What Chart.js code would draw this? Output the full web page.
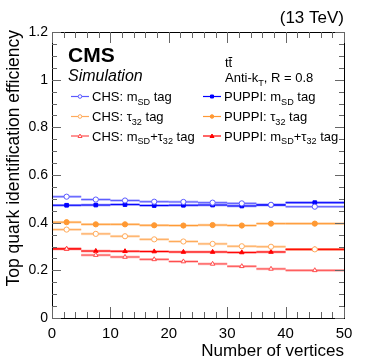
<!DOCTYPE html>
<html>
<head>
<meta charset="utf-8">
<script src="https://cdn.jsdelivr.net/npm/chart.js@4.4.0/dist/chart.umd.min.js"></script>
<style>
  html, body { margin: 0; padding: 0; background: #fff; }
  #wrap { width: 374px; height: 363px; }
</style>
</head>
<body>
<div id="wrap"><canvas id="effChart"></canvas></div>
<script>
// bins in number of vertices
const binLow = [0, 5, 10, 15, 20, 25, 30, 35, 40];
const binHigh = [5, 10, 15, 20, 25, 30, 35, 40, 50];
const binCenter = [2.5, 7.5, 12.5, 17.5, 22.5, 27.5, 32.5, 37.5, 45];

// efficiencies
const chsMsd = [0.509, 0.497, 0.493, 0.488, 0.487, 0.484, 0.481, 0.475, 0.467];
const puppiMsd = [0.473, 0.474, 0.476, 0.472, 0.473, 0.474, 0.470, 0.474, 0.484];
const chsTau32 = [0.371, 0.353, 0.343, 0.330, 0.321, 0.311, 0.301, 0.299, 0.288];
const puppiTau32 = [0.402, 0.393, 0.393, 0.389, 0.388, 0.390, 0.388, 0.396, 0.396];
const chsComb = [0.290, 0.264, 0.256, 0.246, 0.237, 0.227, 0.217, 0.206, 0.200];
const puppiComb = [0.290, 0.281, 0.280, 0.279, 0.277, 0.277, 0.275, 0.277, 0.288];

const yTicks = [0, 0.2, 0.4, 0.6, 0.8, 1, 1.2];

const FONT = "'Liberation Sans', Arial, sans-serif";

const series = [
  { label: "CHS", tag: "msd", values: chsMsd, color: "#5a5aff", style: "circle", open: true },
  { label: "PUPPI", tag: "msd", values: puppiMsd, color: "#0000ff", style: "rect", open: false },
  { label: "CHS", tag: "tau", values: chsTau32, color: "#ffaa5a", style: "circle", open: true },
  { label: "PUPPI", tag: "tau", values: puppiTau32, color: "#ff9933", style: "circle", open: false },
  { label: "CHS", tag: "comb", values: chsComb, color: "#ff4d4d", style: "triangle", open: true },
  { label: "PUPPI", tag: "comb", values: puppiComb, color: "#ff0000", style: "triangle", open: false },
];

const datasets = series.map((s) => ({
  label: s.label + " " + s.tag,
  data: s.values.map((v, i) => ({ x: binCenter[i], y: v })),
  showLine: false,
  pointStyle: s.style,
  pointRadius: 2.6,
  pointBorderWidth: 1,
  pointBorderColor: s.color,
  pointBackgroundColor: s.open ? "#fff" : s.color,
  borderColor: s.color,
  backgroundColor: s.color,
}));

// horizontal bin-width bars under the markers
const binBars = {
  id: "binBars",
  beforeDatasetsDraw(chart) {
    const ctx = chart.ctx;
    const xs = chart.scales.x;
    const ys = chart.scales.y;
    ctx.save();
    series.forEach((s) => {
      s.values.forEach((v, i) => {
        const y = ys.getPixelForValue(v);
        ctx.strokeStyle = s.color;
        ctx.globalAlpha = 0.4;
        ctx.lineWidth = 2.6;
        ctx.beginPath();
        ctx.moveTo(xs.getPixelForValue(binLow[i]), y);
        ctx.lineTo(xs.getPixelForValue(binHigh[i]), y);
        ctx.stroke();
        ctx.globalAlpha = 1;
        ctx.lineWidth = 1;
        ctx.beginPath();
        ctx.moveTo(xs.getPixelForValue(binLow[i]), y);
        ctx.lineTo(xs.getPixelForValue(binHigh[i]), y);
        ctx.stroke();
      });
    });
    ctx.restore();
  },
};

// frame, inner ticks, labels and legend
function subText(ctx, parts, x, y, size) {
  // parts: [text, isSub]
  let cx = x;
  parts.forEach(([t, sub]) => {
    ctx.font = (sub ? size * 0.7 : size) + "px " + FONT;
    ctx.fillText(t, cx, sub ? y + size * 0.3 : y);
    cx += ctx.measureText(t).width;
  });
}

const decor = {
  id: "decor",
  afterDraw(chart) {
    const ctx = chart.ctx;
    const a = chart.chartArea;
    const xs = chart.scales.x;
    const ys = chart.scales.y;
    ctx.save();
    ctx.strokeStyle = "#000";
    ctx.lineWidth = 1;
    ctx.strokeRect(a.left + 0.5, a.top + 0.5, a.right - a.left, a.bottom - a.top);

    ctx.strokeStyle = "#666";
    for (let v = 0; v <= 50; v += 2) {
      const px = Math.round(xs.getPixelForValue(v)) + 0.5;
      const len = v % 10 === 0 ? 11 : 6;
      ctx.beginPath();
      ctx.moveTo(px, a.bottom);
      ctx.lineTo(px, a.bottom - len);
      ctx.moveTo(px, a.top);
      ctx.lineTo(px, a.top + len);
      ctx.stroke();
    }
    for (let k = 0; k <= 24; k++) {
      const py = Math.round(ys.getPixelForValue(k * 0.05)) + 0.5;
      const len = k % 4 === 0 ? 9 : 5;
      ctx.beginPath();
      ctx.moveTo(a.left, py);
      ctx.lineTo(a.left + len, py);
      ctx.moveTo(a.right, py);
      ctx.lineTo(a.right - len, py);
      ctx.stroke();
    }

    ctx.fillStyle = "#000";
    ctx.textBaseline = "alphabetic";
    ctx.textAlign = "right";
    ctx.font = "17px " + FONT;
    ctx.fillText("(13 TeV)", a.right, 23);
    ctx.fillText("Number of vertices", a.right, 356);

    ctx.save();
    ctx.translate(19, a.top - 2);
    ctx.rotate(-Math.PI / 2);
    ctx.textAlign = "right";
    ctx.font = "17.5px " + FONT;
    ctx.fillText("Top quark identification efficiency", 0, 0);
    ctx.restore();

    ctx.textAlign = "left";
    ctx.font = "bold 21px " + FONT;
    ctx.fillText("CMS", 68, 62);
    ctx.font = "italic 16px " + FONT;
    ctx.fillText("Simulation", 68, 81);

    ctx.font = "13px " + FONT;
    ctx.fillText("t", 225, 67);
    const tw = ctx.measureText("t").width;
    ctx.fillText("t", 225 + tw, 67);
    ctx.fillRect(225 + tw, 57, tw, 1);
    subText(ctx, [["Anti-k", false], ["T", true], [", R = 0.8", false]], 225, 82, 13);

    // legend
    const rows = [96.5, 116.5, 136];
    const legendText = {
      msd: [["m", false], ["SD", true], [" tag", false]],
      tau: [["\u03c4", false], ["32", true], [" tag", false]],
      comb: [["m", false], ["SD", true], ["+\u03c4", false], ["32", true], [" tag", false]],
    };
    series.forEach((s, i) => {
      const row = rows[Math.floor(i / 2)];
      const x0 = i % 2 === 0 ? 71 : 203;
      ctx.strokeStyle = s.color;
      ctx.lineWidth = 1.2;
      ctx.beginPath();
      ctx.moveTo(x0, row);
      ctx.lineTo(x0 + 18, row);
      ctx.stroke();
      ctx.fillStyle = s.open ? "#fff" : s.color;
      ctx.lineWidth = 1;
      ctx.beginPath();
      if (s.style === "rect") ctx.rect(x0 + 7.5, row - 1.5, 3, 3);
      else if (s.style === "triangle") {
        ctx.moveTo(x0 + 9, row - 2);
        ctx.lineTo(x0 + 11, row + 1.5);
        ctx.lineTo(x0 + 7, row + 1.5);
        ctx.closePath();
      } else ctx.arc(x0 + 9, row, 1.8, 0, Math.PI * 2);
      ctx.fill();
      ctx.stroke();
      ctx.fillStyle = "#000";
      subText(ctx, [[s.label + ": ", false]].concat(legendText[s.tag]), x0 + 21, row + 4.5, 13);
    });
    ctx.restore();
  },
};

new Chart(document.getElementById("effChart"), {
  type: "line",
  data: { datasets: datasets },
  options: {
    responsive: true,
    maintainAspectRatio: false,
    animation: false,
    layout: { padding: { top: 32, right: 30, left: 0, bottom: 0 } },
    plugins: { legend: { display: false }, tooltip: { enabled: false } },
    scales: {
      x: {
        type: "linear",
        min: 0,
        max: 50,
        grid: { display: false, drawTicks: false },
        border: { display: false },
        ticks: { stepSize: 10, padding: 7, color: "#000", font: { family: FONT, size: 15 } },
        afterFit: (scale) => { scale.height = 45; },
      },
      y: {
        min: 0,
        max: 1.2,
        grid: { display: false, drawTicks: false },
        border: { display: false },
        afterBuildTicks: (scale) => { scale.ticks = yTicks.map((v) => ({ value: v })); },
        ticks: {
          padding: 4,
          color: "#000",
          font: { family: FONT, size: 14 },
          callback: (v) => String(Math.round(v * 10) / 10),
        },
        afterFit: (scale) => { scale.width = 52; },
      },
    },
  },
  plugins: [binBars, decor],
});
</script>
</body>
</html>
